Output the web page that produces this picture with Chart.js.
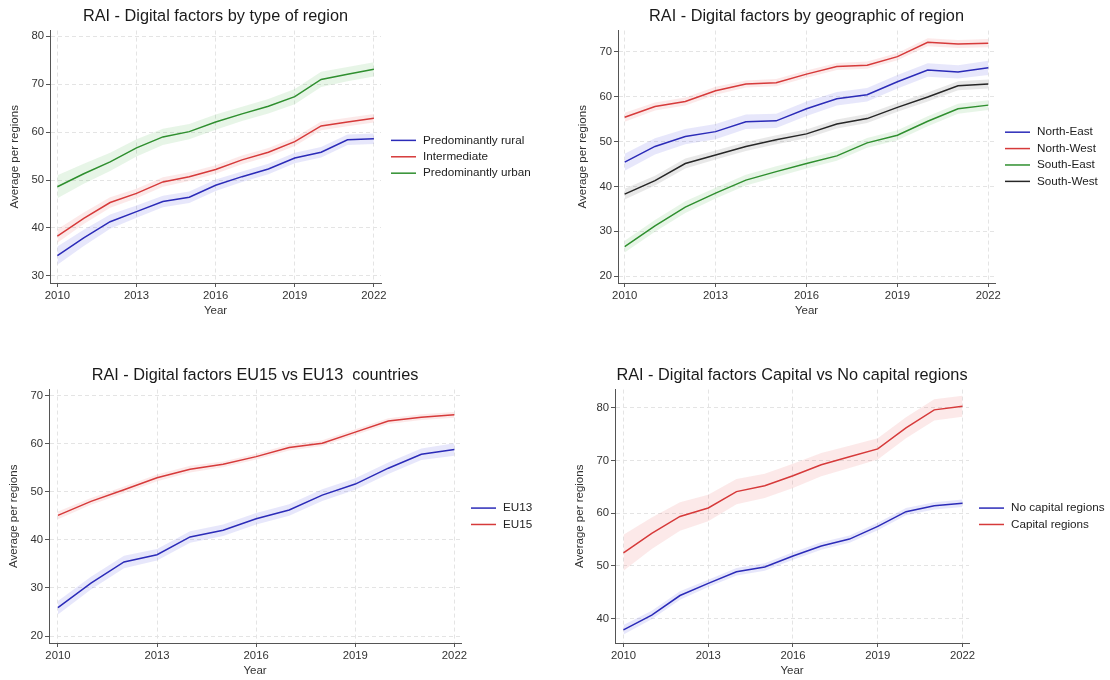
<!DOCTYPE html>
<html>
<head>
<meta charset="utf-8">
<script src="https://cdn.jsdelivr.net/npm/chart.js@4.4.1/dist/chart.umd.min.js"></script>
<style>
  html, body { margin: 0; background: #fff; }
  body { width: 1110px; height: 680px; position: relative; overflow: hidden; }
  .panel { position: absolute; }
</style>
</head>
<body>
<div class="panel" style="left:0px;top:0px;width:555px;height:320px"><canvas id="typeChart"></canvas></div>
<div class="panel" style="left:568px;top:0px;width:542px;height:320px"><canvas id="geoChart"></canvas></div>
<div class="panel" style="left:-1px;top:360px;width:556px;height:320px"><canvas id="euChart"></canvas></div>
<div class="panel" style="left:565px;top:360px;width:545px;height:320px"><canvas id="capitalChart"></canvas></div>

<script>
const years = [2010, 2011, 2012, 2013, 2014, 2015, 2016, 2017, 2018, 2019, 2020, 2021, 2022];
const yearTicks = [2010, 2013, 2016, 2019, 2022];

// by type of region (mean and half-width of the confidence band)
const rural        = [34.2, 37.9, 41.3, 43.4, 45.5, 46.4, 48.9, 50.7, 52.3, 54.6, 55.8, 58.4, 58.6];
const ruralCi      = [1.9, 1.7, 1.5, 1.3, 1.2, 1.2, 1.2, 1.1, 1.1, 1.1, 1.1, 1.1, 1.1];
const intermediate = [38.3, 42.0, 45.3, 47.2, 49.6, 50.7, 52.2, 54.2, 55.8, 58.0, 61.3, 62.1, 62.9];
const intermCi     = [1.4, 1.2, 1.1, 1.0, 1.0, 0.9, 0.9, 0.9, 0.9, 0.9, 0.9, 0.9, 0.9];
const urban        = [48.6, 51.3, 53.8, 56.7, 59.0, 60.1, 62.1, 63.8, 65.4, 67.4, 71.0, 72.1, 73.1];
const urbanCi      = [2.4, 2.1, 1.9, 1.8, 1.7, 1.6, 1.6, 1.5, 1.5, 1.6, 1.6, 1.5, 1.5];
const typeTicks    = [30, 40, 50, 60, 70, 80];

// by geographic position
const northEast   = [45.4, 48.9, 51.1, 52.2, 54.4, 54.6, 57.3, 59.5, 60.4, 63.3, 65.9, 65.5, 66.4];
const northEastCi = [1.9, 1.8, 1.7, 1.7, 1.6, 1.6, 1.6, 1.5, 1.5, 1.5, 1.5, 1.5, 1.6];
const northWest   = [55.4, 57.8, 58.9, 61.3, 62.8, 63.1, 65.0, 66.7, 67.0, 68.9, 72.1, 71.7, 71.9];
const northWestCi = [1.0, 0.9, 0.9, 0.9, 0.8, 0.8, 0.8, 0.8, 0.8, 0.8, 0.9, 0.9, 0.9];
const southEast   = [26.6, 31.2, 35.4, 38.5, 41.4, 43.3, 45.1, 46.8, 49.7, 51.4, 54.5, 57.3, 58.1];
const southEastCi = [1.3, 1.3, 1.3, 1.2, 1.2, 1.2, 1.1, 1.1, 1.1, 1.1, 1.1, 1.1, 1.1];
const southWest   = [38.3, 41.3, 45.1, 47.0, 48.9, 50.4, 51.7, 53.9, 55.1, 57.6, 59.9, 62.4, 62.8];
const southWestCi = [1.2, 1.1, 1.1, 1.0, 1.0, 1.0, 1.0, 1.0, 1.0, 1.0, 1.0, 1.0, 1.0];
const geoTicks    = [20, 30, 40, 50, 60, 70];

// EU15 vs EU13
const eu13    = [25.9, 31.0, 35.4, 36.9, 40.6, 42.0, 44.4, 46.2, 49.3, 51.6, 54.9, 57.8, 58.8];
const eu13Ci  = [1.4, 1.3, 1.3, 1.2, 1.2, 1.2, 1.2, 1.2, 1.2, 1.2, 1.2, 1.2, 1.3];
const eu15    = [45.1, 48.0, 50.4, 52.9, 54.7, 55.7, 57.3, 59.2, 60.1, 62.4, 64.7, 65.5, 66.0];
const eu15Ci  = [0.8, 0.7, 0.7, 0.7, 0.7, 0.6, 0.6, 0.6, 0.6, 0.6, 0.6, 0.6, 0.6];
const euTicks = [20, 30, 40, 50, 60, 70];

// capital vs no capital regions
const noCapital    = [37.9, 40.7, 44.4, 46.7, 48.9, 49.8, 51.9, 53.8, 55.1, 57.5, 60.3, 61.4, 61.9];
const noCapitalCi  = [0.9, 0.8, 0.8, 0.7, 0.7, 0.7, 0.7, 0.7, 0.7, 0.7, 0.7, 0.7, 0.7];
const capital      = [52.5, 56.2, 59.4, 61.0, 64.1, 65.2, 67.1, 69.2, 70.7, 72.2, 76.2, 79.6, 80.3];
const capitalCi    = [3.4, 3.0, 2.7, 2.5, 2.4, 2.3, 2.3, 2.2, 2.1, 2.0, 2.0, 2.0, 2.0];
const capitalTicks = [40, 50, 60, 70, 80];

const BLUE  = { line: "#2b2bb8", band: "rgba(70,70,225,0.13)" };
const RED   = { line: "#d63a3a", band: "rgba(230,70,70,0.12)" };
const GREEN = { line: "#2f8f2f", band: "rgba(60,170,60,0.12)" };
const BLACK = { line: "#262626", band: "rgba(90,90,90,0.14)" };

Chart.defaults.font.family = '"Liberation Sans", Arial, sans-serif';
Chart.defaults.color = "#333";

// legend drawn as short lines to the right of the plot area
const lineLegend = {
    id: "lineLegend",
    afterDraw(chart) {
        const { ctx, chartArea } = chart;
        const items = chart.data.datasets.filter(d => !d.band);
        const rowH = 16.4;
        const x0 = chartArea.right + 10;
        let y = (chartArea.top + chartArea.bottom) / 2 - (items.length - 1) * rowH / 2;
        ctx.save();
        ctx.font = '11.7px "Liberation Sans", Arial, sans-serif';
        ctx.textBaseline = "middle";
        ctx.textAlign = "left";
        items.forEach(d => {
            ctx.strokeStyle = d.borderColor;
            ctx.lineWidth = 1.5;
            ctx.beginPath();
            ctx.moveTo(x0, y);
            ctx.lineTo(x0 + 25, y);
            ctx.stroke();
            ctx.fillStyle = "#222";
            ctx.fillText(d.label, x0 + 32, y);
            y += rowH;
        });
        ctx.restore();
    }
};

function buildDatasets(series) {
    const bands = [];
    const lines = [];
    series.forEach(s => {
        bands.push({
            label: s.label + " hi", band: true, order: 2,
            data: years.map((yr, i) => ({ x: yr, y: s.values[i] + s.ci[i] })),
            borderColor: "transparent", borderWidth: 0, pointRadius: 0, fill: false
        });
        bands.push({
            label: s.label + " lo", band: true, order: 2,
            data: years.map((yr, i) => ({ x: yr, y: s.values[i] - s.ci[i] })),
            borderColor: "transparent", borderWidth: 0, pointRadius: 0,
            fill: "-1", backgroundColor: s.color.band
        });
        lines.push({
            label: s.label, order: 1,
            data: years.map((yr, i) => ({ x: yr, y: s.values[i] })),
            borderColor: s.color.line, borderWidth: 1.5,
            pointRadius: 0, fill: false, tension: 0
        });
    });
    return bands.concat(lines);
}

function drawPanel(id, p) {
    const ctx = document.getElementById(id).getContext("2d");
    const gridCommon = {
        color: "#e4e4e4", lineWidth: 1,
        tickLength: 4, tickColor: "#555", tickWidth: 1, tickBorderDash: []
    };
    return new Chart(ctx, {
        type: "line",
        data: { datasets: buildDatasets(p.series) },
        options: {
            responsive: true,
            maintainAspectRatio: false,
            animation: false,
            events: [],
            layout: { padding: { left: 0, right: p.rightPad, top: 0, bottom: 0 } },
            plugins: {
                legend: { display: false },
                tooltip: { enabled: false },
                title: {
                    display: true,
                    text: p.title,
                    fullSize: false,
                    color: "#1a1a1a",
                    font: { size: 16.3, weight: "normal" },
                    padding: { top: p.titleTop, bottom: p.titleBottom }
                }
            },
            scales: {
                x: {
                    type: "linear",
                    min: p.xMin, max: p.xMax,
                    afterBuildTicks: s => { s.ticks = yearTicks.map(v => ({ value: v })); },
                    afterFit: s => { s.height = 37; },
                    ticks: { callback: v => String(v), font: { size: 11.3 }, color: "#333", padding: 2, maxRotation: 0 },
                    grid: gridCommon,
                    border: { color: "#555", width: 1, dash: [4, 3] },
                    title: { display: true, text: "Year", font: { size: 11.5 }, color: "#333", padding: { top: 0, bottom: 2 } }
                },
                y: {
                    min: p.yMin, max: p.yMax,
                    afterBuildTicks: s => { s.ticks = p.yTicks.map(v => ({ value: v })); },
                    afterFit: s => { s.width = 50; },
                    ticks: { callback: v => String(v), font: { size: 11.3 }, color: "#333", padding: 2 },
                    grid: gridCommon,
                    border: { color: "#555", width: 1, dash: [4, 3] },
                    title: { display: true, text: "Average per regions", font: { size: 11.5 }, color: "#333", padding: { top: 8, bottom: 0 } }
                }
            }
        },
        plugins: [lineLegend]
    });
}

drawPanel("typeChart", {
    title: "RAI - Digital factors by type of region",
    series: [
        { label: "Predominantly rural", values: rural, ci: ruralCi, color: BLUE },
        { label: "Intermediate", values: intermediate, ci: intermCi, color: RED },
        { label: "Predominantly urban", values: urban, ci: urbanCi, color: GREEN }
    ],
    yTicks: typeTicks, yMin: 28.5, yMax: 81.2, xMin: 2009.72, xMax: 2022.27,
    rightPad: 174, titleTop: 7, titleBottom: 4
});

drawPanel("geoChart", {
    title: "RAI - Digital factors by geographic of region",
    series: [
        { label: "North-East", values: northEast, ci: northEastCi, color: BLUE },
        { label: "North-West", values: northWest, ci: northWestCi, color: RED },
        { label: "South-East", values: southEast, ci: southEastCi, color: GREEN },
        { label: "South-West", values: southWest, ci: southWestCi, color: BLACK }
    ],
    yTicks: geoTicks, yMin: 18.5, yMax: 74.7, xMin: 2009.78, xMax: 2022.22,
    rightPad: 115, titleTop: 7, titleBottom: 4
});

drawPanel("euChart", {
    title: "RAI - Digital factors EU15 vs EU13  countries",
    series: [
        { label: "EU13", values: eu13, ci: eu13Ci, color: BLUE },
        { label: "EU15", values: eu15, ci: eu15Ci, color: RED }
    ],
    yTicks: euTicks, yMin: 18.55, yMax: 71.25, xMin: 2009.73, xMax: 2022.2,
    rightPad: 94, titleTop: 6, titleBottom: 4
});

drawPanel("capitalChart", {
    title: "RAI - Digital factors Capital vs No capital regions",
    series: [
        { label: "No capital regions", values: noCapital, ci: noCapitalCi, color: BLUE },
        { label: "Capital regions", values: capital, ci: capitalCi, color: RED }
    ],
    yTicks: capitalTicks, yMin: 35.4, yMax: 83.45, xMin: 2009.7, xMax: 2022.23,
    rightPad: 141, titleTop: 6, titleBottom: 4
});
</script>
</body>
</html>
